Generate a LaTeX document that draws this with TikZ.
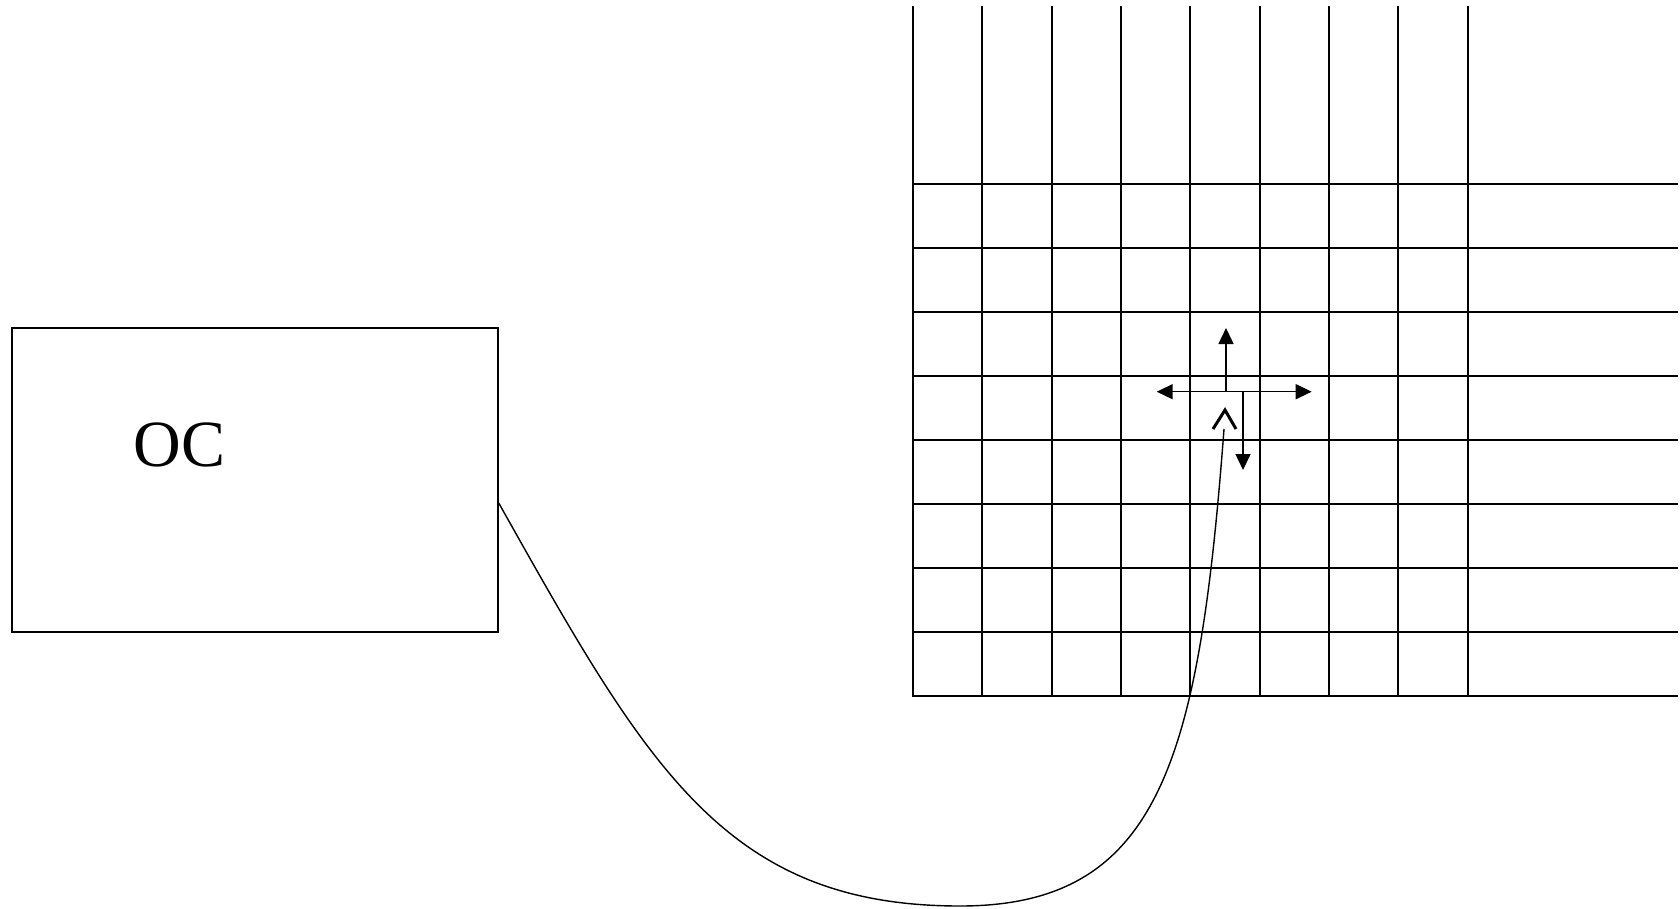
\documentclass[tikz,border=0pt]{standalone}
\usepackage{fontspec}
\setmainfont{Liberation Serif}
\usetikzlibrary{arrows.meta}
\tikzset{
  gridline/.style={line width=1.7pt, line cap=rect},
  ocbox/.style={draw, line width=1.5pt, minimum width=486pt, minimum height=304pt, inner sep=0pt},
  moveArrow/.style={line width=1.5pt, -{Triangle[length=16pt,width=15pt]}},
  moveArrows/.style={line width=1.5pt, {Triangle[length=16pt,width=15pt]}-{Triangle[length=16pt,width=15pt]}},
}
\begin{document}
\begin{tikzpicture}[x=1pt,y=-1pt]
\useasboundingbox (0,0) rectangle (1680,908);
% grid
\foreach \x in {913,982,1052,1121,1190,1260,1329,1398,1468} {
  \draw[gridline] (\x,7) -- (\x,696);
}
\foreach \j in {0,...,8} {
  \draw[gridline] (913,{184+64*\j}) -- (1677,{184+64*\j});
}
% box
\node[ocbox] (box) at (255,480) {};
\node[font=\fontsize{66}{68}\selectfont, inner sep=0pt] (oclabel) at (179.5,444.5) {OC};
% arrows in the grid
\coordinate (hl) at (1156.7,391.7);
\coordinate (hr) at (1311.7,391.7);
\coordinate (ub) at (1226,391.7);
\coordinate (ut) at (1226,328);
\coordinate (db) at (1243,391.7);
\coordinate (dt) at (1243,470);
\draw[moveArrows] (hl) -- (hr);
\draw[moveArrow] (ub) -- (ut);
\draw[moveArrow] (db) -- (dt);
% link curve
\coordinate (start) at ([yshift=-23pt]box.east);
\coordinate (low) at (960,906);
\coordinate (target) at (1225,410);
\coordinate (curveend) at (1224,429);
\draw[line width=1.4pt] (start) .. controls (647,767) and (725,906) .. (low)
  .. controls (1160,906) and (1199,760) .. (curveend);
\draw[line width=3pt, line join=miter] (1213,429) -- (target) -- (1236,429);
\end{tikzpicture}
\end{document}
